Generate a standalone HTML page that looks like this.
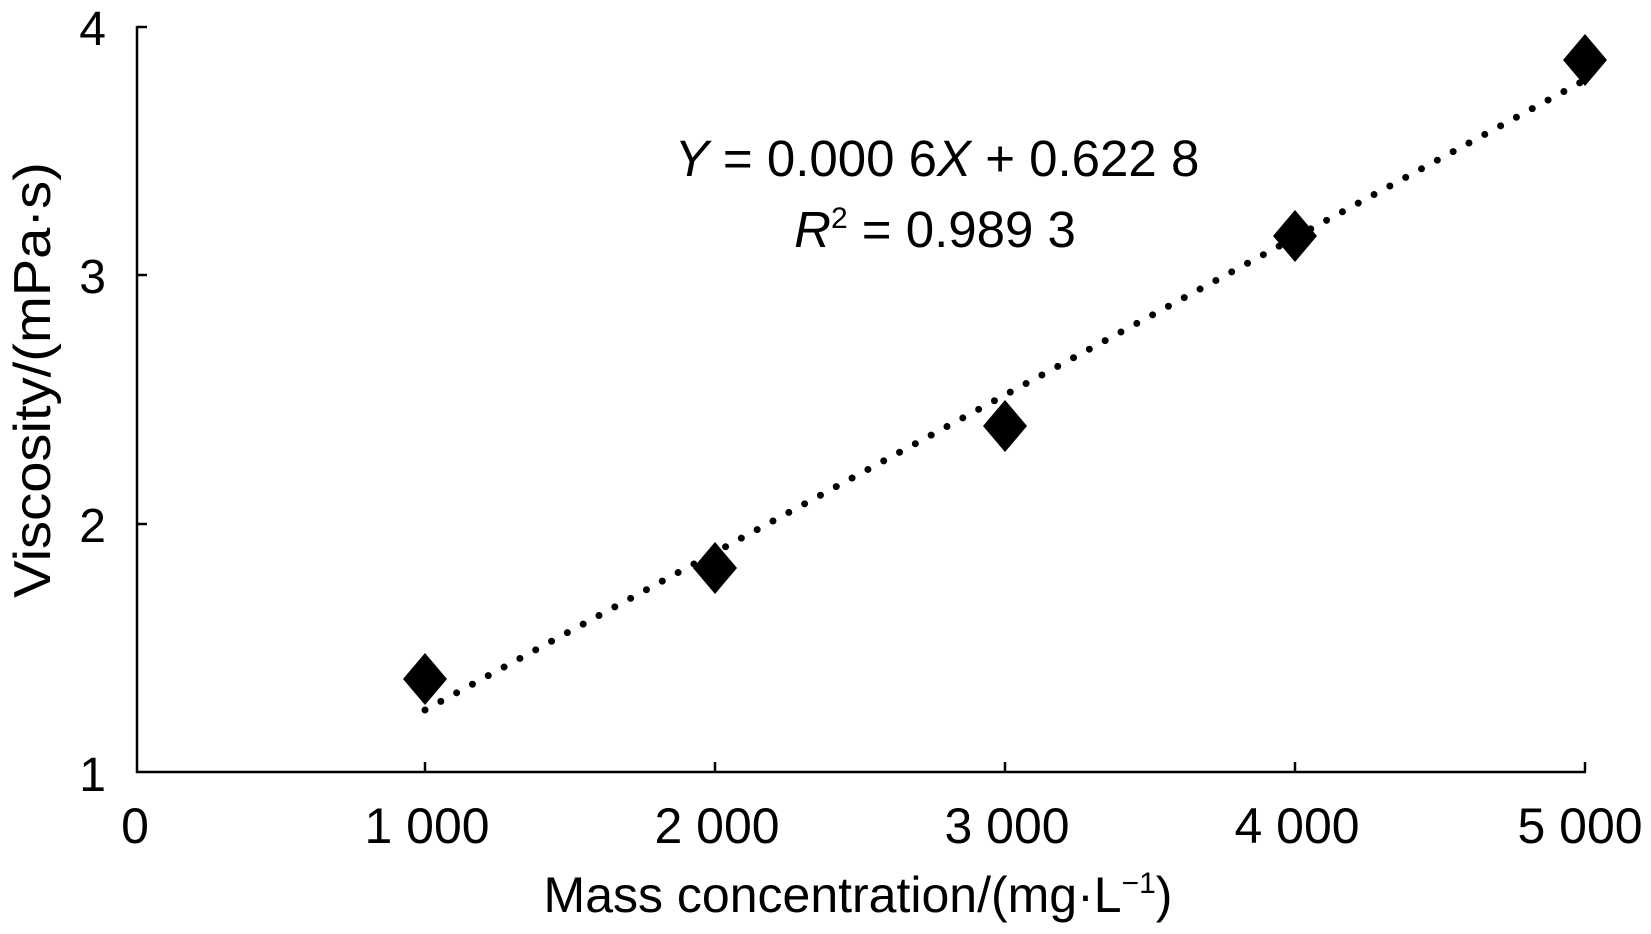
<!DOCTYPE html>
<html><head><style>body{margin:0;background:#fff}</style></head><body>
<svg width="1651" height="929" xmlns="http://www.w3.org/2000/svg" font-family="Liberation Sans, Arial, sans-serif">
<rect width="1651" height="929" fill="#fff"/>
<g stroke="#000" stroke-width="2.5" fill="none">
<line x1="137" y1="26" x2="137" y2="773"/>
<line x1="136" y1="772" x2="1586" y2="772"/>
<line x1="137" y1="27" x2="147" y2="27"/>
<line x1="137" y1="275" x2="147" y2="275"/>
<line x1="137" y1="524" x2="147" y2="524"/>
<line x1="425" y1="772" x2="425" y2="762"/>
<line x1="715" y1="772" x2="715" y2="762"/>
<line x1="1005" y1="772" x2="1005" y2="762"/>
<line x1="1295" y1="772" x2="1295" y2="762"/>
<line x1="1585" y1="772" x2="1585" y2="762"/>
</g>
<line x1="425" y1="710" x2="1585" y2="80" stroke="#000" stroke-width="7" stroke-linecap="round" stroke-dasharray="0 18"/>
<g fill="#000">
<polygon points="425,653 447,679 425,705 403,679"/>
<polygon points="715,542 737,568 715,594 693,568"/>
<polygon points="1005,400 1027,426 1005,452 983,426"/>
<polygon points="1295,210 1317,236 1295,262 1273,236"/>
<polygon points="1585,34 1607,60 1585,86 1563,60"/>
</g>
<g font-size="48" text-anchor="end">
<text x="106" y="45">4</text>
<text x="106" y="293">3</text>
<text x="106" y="542">2</text>
<text x="106" y="791">1</text>
</g>
<g font-size="50" text-anchor="middle">
<text x="135" y="843">0</text>
<text x="427" y="843">1 000</text>
<text x="717" y="843">2 000</text>
<text x="1007" y="843">3 000</text>
<text x="1297" y="843">4 000</text>
<text x="1580" y="843">5 000</text>
<text x="858" y="912">Mass concentration/(mg·L<tspan font-size="30" dy="-19">−1</tspan><tspan dy="19">)</tspan></text>
<text x="937" y="176" font-size="51"><tspan font-style="italic">Y</tspan> = 0.000 6<tspan font-style="italic">X</tspan> + 0.622 8</text>
<text x="935" y="247" font-size="51"><tspan font-style="italic">R</tspan><tspan font-size="30" dy="-19">2</tspan><tspan dy="19"> = 0.989 3</tspan></text>
</g>
<text font-size="52" text-anchor="middle" transform="translate(50,380) rotate(-90) scale(1.08,1)">Viscosity/(mPa·s)</text>
</svg>
</body></html>
